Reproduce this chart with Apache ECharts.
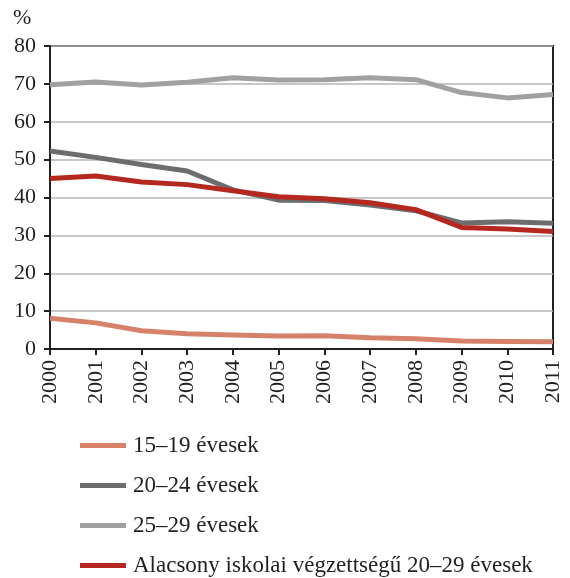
<!DOCTYPE html>
<html>
<head>
<meta charset="utf-8">
<script src="https://cdn.jsdelivr.net/npm/echarts@6/dist/echarts.min.js"></script>
<style>
  body { margin: 0; background: #fff; }
  #main { width: 570px; height: 578px; }
</style>
</head>
<body>
<div id="main"></div>
<script>
// évek
var years = ['2000', '2001', '2002', '2003', '2004', '2005', '2006', '2007', '2008', '2009', '2010', '2011'];
// sorozatok (%)
var s1519 = [8.1, 6.9, 4.8, 4.0, 3.7, 3.4, 3.5, 3.0, 2.7, 2.1, 2.0, 1.9];
var s2024 = [52.3, 50.6, 48.7, 47.0, 42.0, 39.3, 39.2, 38.0, 36.5, 33.3, 33.6, 33.2];
var s2529 = [69.8, 70.5, 69.7, 70.4, 71.6, 71.0, 71.1, 71.6, 71.1, 67.7, 66.3, 67.2];
var sLow = [45.0, 45.7, 44.1, 43.4, 41.8, 40.2, 39.7, 38.6, 36.8, 32.1, 31.7, 31.0];
var names = ['15–19 évesek', '20–24 évesek', '25–29 évesek', 'Alacsony iskolai végzettségű 20–29 évesek'];
var colors = ['#d6826a', '#6c6d6f', '#a1a1a4', '#b5281f'];

var font = '"Liberation Serif", "DejaVu Serif", serif';
var chart = echarts.init(document.getElementById('main'));

function line(name, data, color, z) {
  return {
    name: name,
    type: 'line',
    data: data,
    symbol: 'none',
    z: z,
    lineStyle: { color: color, width: 5 },
    itemStyle: { color: color }
  };
}

chart.setOption({
  animation: false,
  textStyle: { fontFamily: font },
  grid: {
    left: 50, right: 17, top: 46, bottom: 229,
    show: true, borderColor: '#231f20', borderWidth: 2
  },
  graphic: [{
    type: 'text', left: 13, top: 7,
    style: { text: '%', font: '22px ' + font, fill: '#231f20' }
  }],
  xAxis: {
    type: 'category',
    data: years,
    boundaryGap: false,
    axisLine: { lineStyle: { color: '#231f20', width: 2 } },
    axisTick: { length: 6, lineStyle: { color: '#231f20', width: 2 } },
    axisLabel: { rotate: 90, margin: 11, color: '#231f20', fontSize: 22, fontFamily: font },
    splitLine: { show: false }
  },
  yAxis: {
    type: 'value',
    min: 0, max: 80, interval: 10,
    axisLine: { show: true, lineStyle: { color: '#231f20', width: 2 } },
    axisTick: { show: true, length: 6, lineStyle: { color: '#231f20', width: 2 } },
    axisLabel: { margin: 14, color: '#231f20', fontSize: 22, fontFamily: font },
    splitLine: { lineStyle: { color: '#b5b5b5', width: 1.5 } }
  },
  legend: {
    orient: 'vertical',
    left: 80, top: 434,
    width: 480, height: 200,
    padding: 0,
    itemWidth: 46, itemHeight: 5,
    itemGap: 17,
    icon: 'rect',
    data: names,
    textStyle: { fontSize: 23, lineHeight: 22, fontFamily: font, color: '#231f20', padding: [0, 0, 0, 2] }
  },
  series: [
    line(names[0], s1519, colors[0], 2),
    line(names[1], s2024, colors[1], 3),
    line(names[2], s2529, colors[2], 2),
    line(names[3], sLow, colors[3], 4)
  ]
});
</script>
</body>
</html>
